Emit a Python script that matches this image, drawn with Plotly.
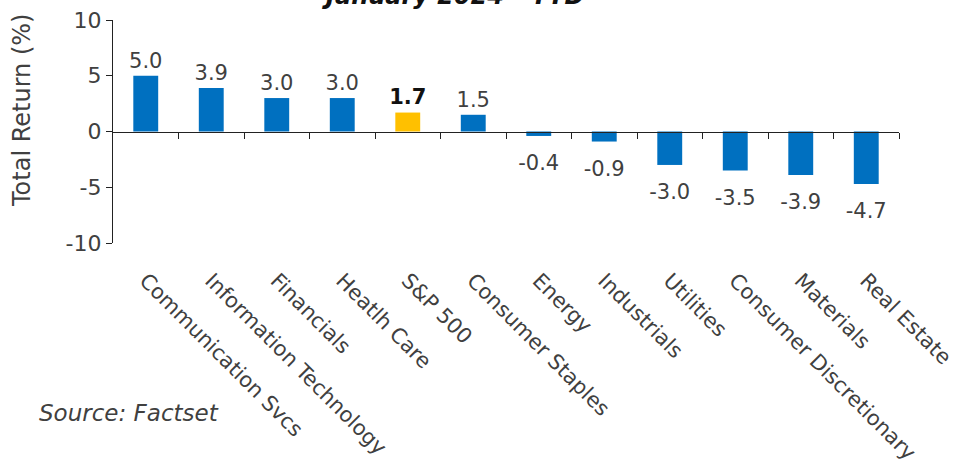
import plotly.graph_objects as go

categories = ["Communication Svcs", "Information Technology", "Financials", "Heatlh Care",
              "S&P 500", "Consumer Staples", "Energy", "Industrials", "Utilities",
              "Consumer Discretionary", "Materials", "Real Estate"]
returns = [5.0, 3.9, 3.0, 3.0, 1.7, 1.5, -0.4, -0.9, -3.0, -3.5, -3.9, -4.7]
highlight = "S&P 500"
title_text = "January 2024 - YTD"
source_text = "Source: Factset"
y_title = "Total Return (%)"
y_ticks = [-10, -5, 0, 5, 10]
y_tick_text = ["-10", "-5", "0", "5", "10"]

BLUE = "#0070C0"
GOLD = "#FFC000"
GREY = "#404040"
FONT = "DejaVu Sans"

colors = [GOLD if c == highlight else BLUE for c in categories]
labels = [f"<b>{v:.1f}</b>" if c == highlight else f"{v:.1f}" for c, v in zip(categories, returns)]
label_colors = ["#111111" if c == highlight else GREY for c in categories]
label_pos = ["top center" if v >= 0 else "bottom center" for v in returns]
label_gap = [3 if v >= 0 else 28 for v in returns]

xpos = list(range(len(categories)))

fig = go.Figure()
fig.add_trace(go.Bar(
    x=xpos, y=returns, width=0.38,
    marker=dict(color=colors, line=dict(width=0)),
    hoverinfo="skip",
))
fig.add_trace(go.Scatter(
    x=xpos, y=returns, mode="markers+text",
    marker=dict(size=label_gap, opacity=0),
    text=labels, textposition=label_pos, cliponaxis=False,
    textfont=dict(family=FONT, size=21, color=label_colors),
    hoverinfo="skip",
))

W, H = 955, 459
ml, mr, mt, mb = 113, 56, 20, 216
pw, ph = W - ml - mr, H - mt - mb

fig.update_layout(
    width=W, height=H,
    margin=dict(l=ml, r=mr, t=mt, b=mb, pad=0, autoexpand=False),
    paper_bgcolor="white", plot_bgcolor="white",
    showlegend=False,
    font=dict(family=FONT, color=GREY, size=21),
    xaxis=dict(
        range=[-0.5, len(categories) - 0.5], automargin=False,
        tickmode="array", tickvals=xpos, ticktext=categories,
        tickangle=45, showline=False, showgrid=False, zeroline=False,
        ticks="outside", ticklen=16, tickcolor="rgba(0,0,0,0)",
        ticklabeloverflow="allow",
        tickfont=dict(family=FONT, size=21, color=GREY),
    ),
    xaxis2=dict(
        overlaying="x", anchor="free", position=0.5, automargin=False,
        range=[-0.5, len(categories) - 0.5],
        tickmode="array", tickvals=[i + 0.5 for i in xpos[:-1]] + [len(categories) - 0.5],
        showticklabels=False, showline=True, linecolor="#222222", linewidth=1.3,
        ticks="outside", ticklen=6, tickcolor="#222222", tickwidth=1.3,
        showgrid=False, zeroline=False,
    ),
    yaxis=dict(
        range=[-10, 10], tickmode="array", tickvals=y_ticks, ticktext=y_tick_text,
        automargin=False,
        showline=True, linecolor="#222222", linewidth=1.3,
        ticks="outside", ticklen=6, tickcolor="#222222", tickwidth=1.3,
        showgrid=False, zeroline=False,
        tickfont=dict(family=FONT, size=22, color=GREY),
    ),
)

# invisible trace to activate xaxis2
fig.add_trace(go.Scatter(x=[0], y=[0], xaxis="x2", mode="markers",
                         marker=dict(opacity=0), hoverinfo="skip", showlegend=False))

fig.add_annotation(
    text=y_title, xref="paper", yref="paper", textangle=-90,
    x=(22 - ml) / pw, y=(H - mb - 111) / ph, xanchor="center", yanchor="middle",
    showarrow=False, font=dict(family=FONT, size=24, color=GREY),
)
fig.add_annotation(
    text=f"<b><i>{title_text}</i></b>", xref="paper", yref="paper",
    x=(453 - ml) / pw, y=1, xanchor="center", yanchor="bottom", yshift=8,
    showarrow=False, font=dict(family=FONT, size=24, color="#111111"),
)
fig.add_annotation(
    text=f"<i>{source_text}</i>", xref="paper", yref="paper",
    x=(37 - ml) / pw, y=(H - mb - 413) / ph, xanchor="left", yanchor="middle",
    showarrow=False, font=dict(family=FONT, size=23, color=GREY),
)

fig.write_html("out.html")
